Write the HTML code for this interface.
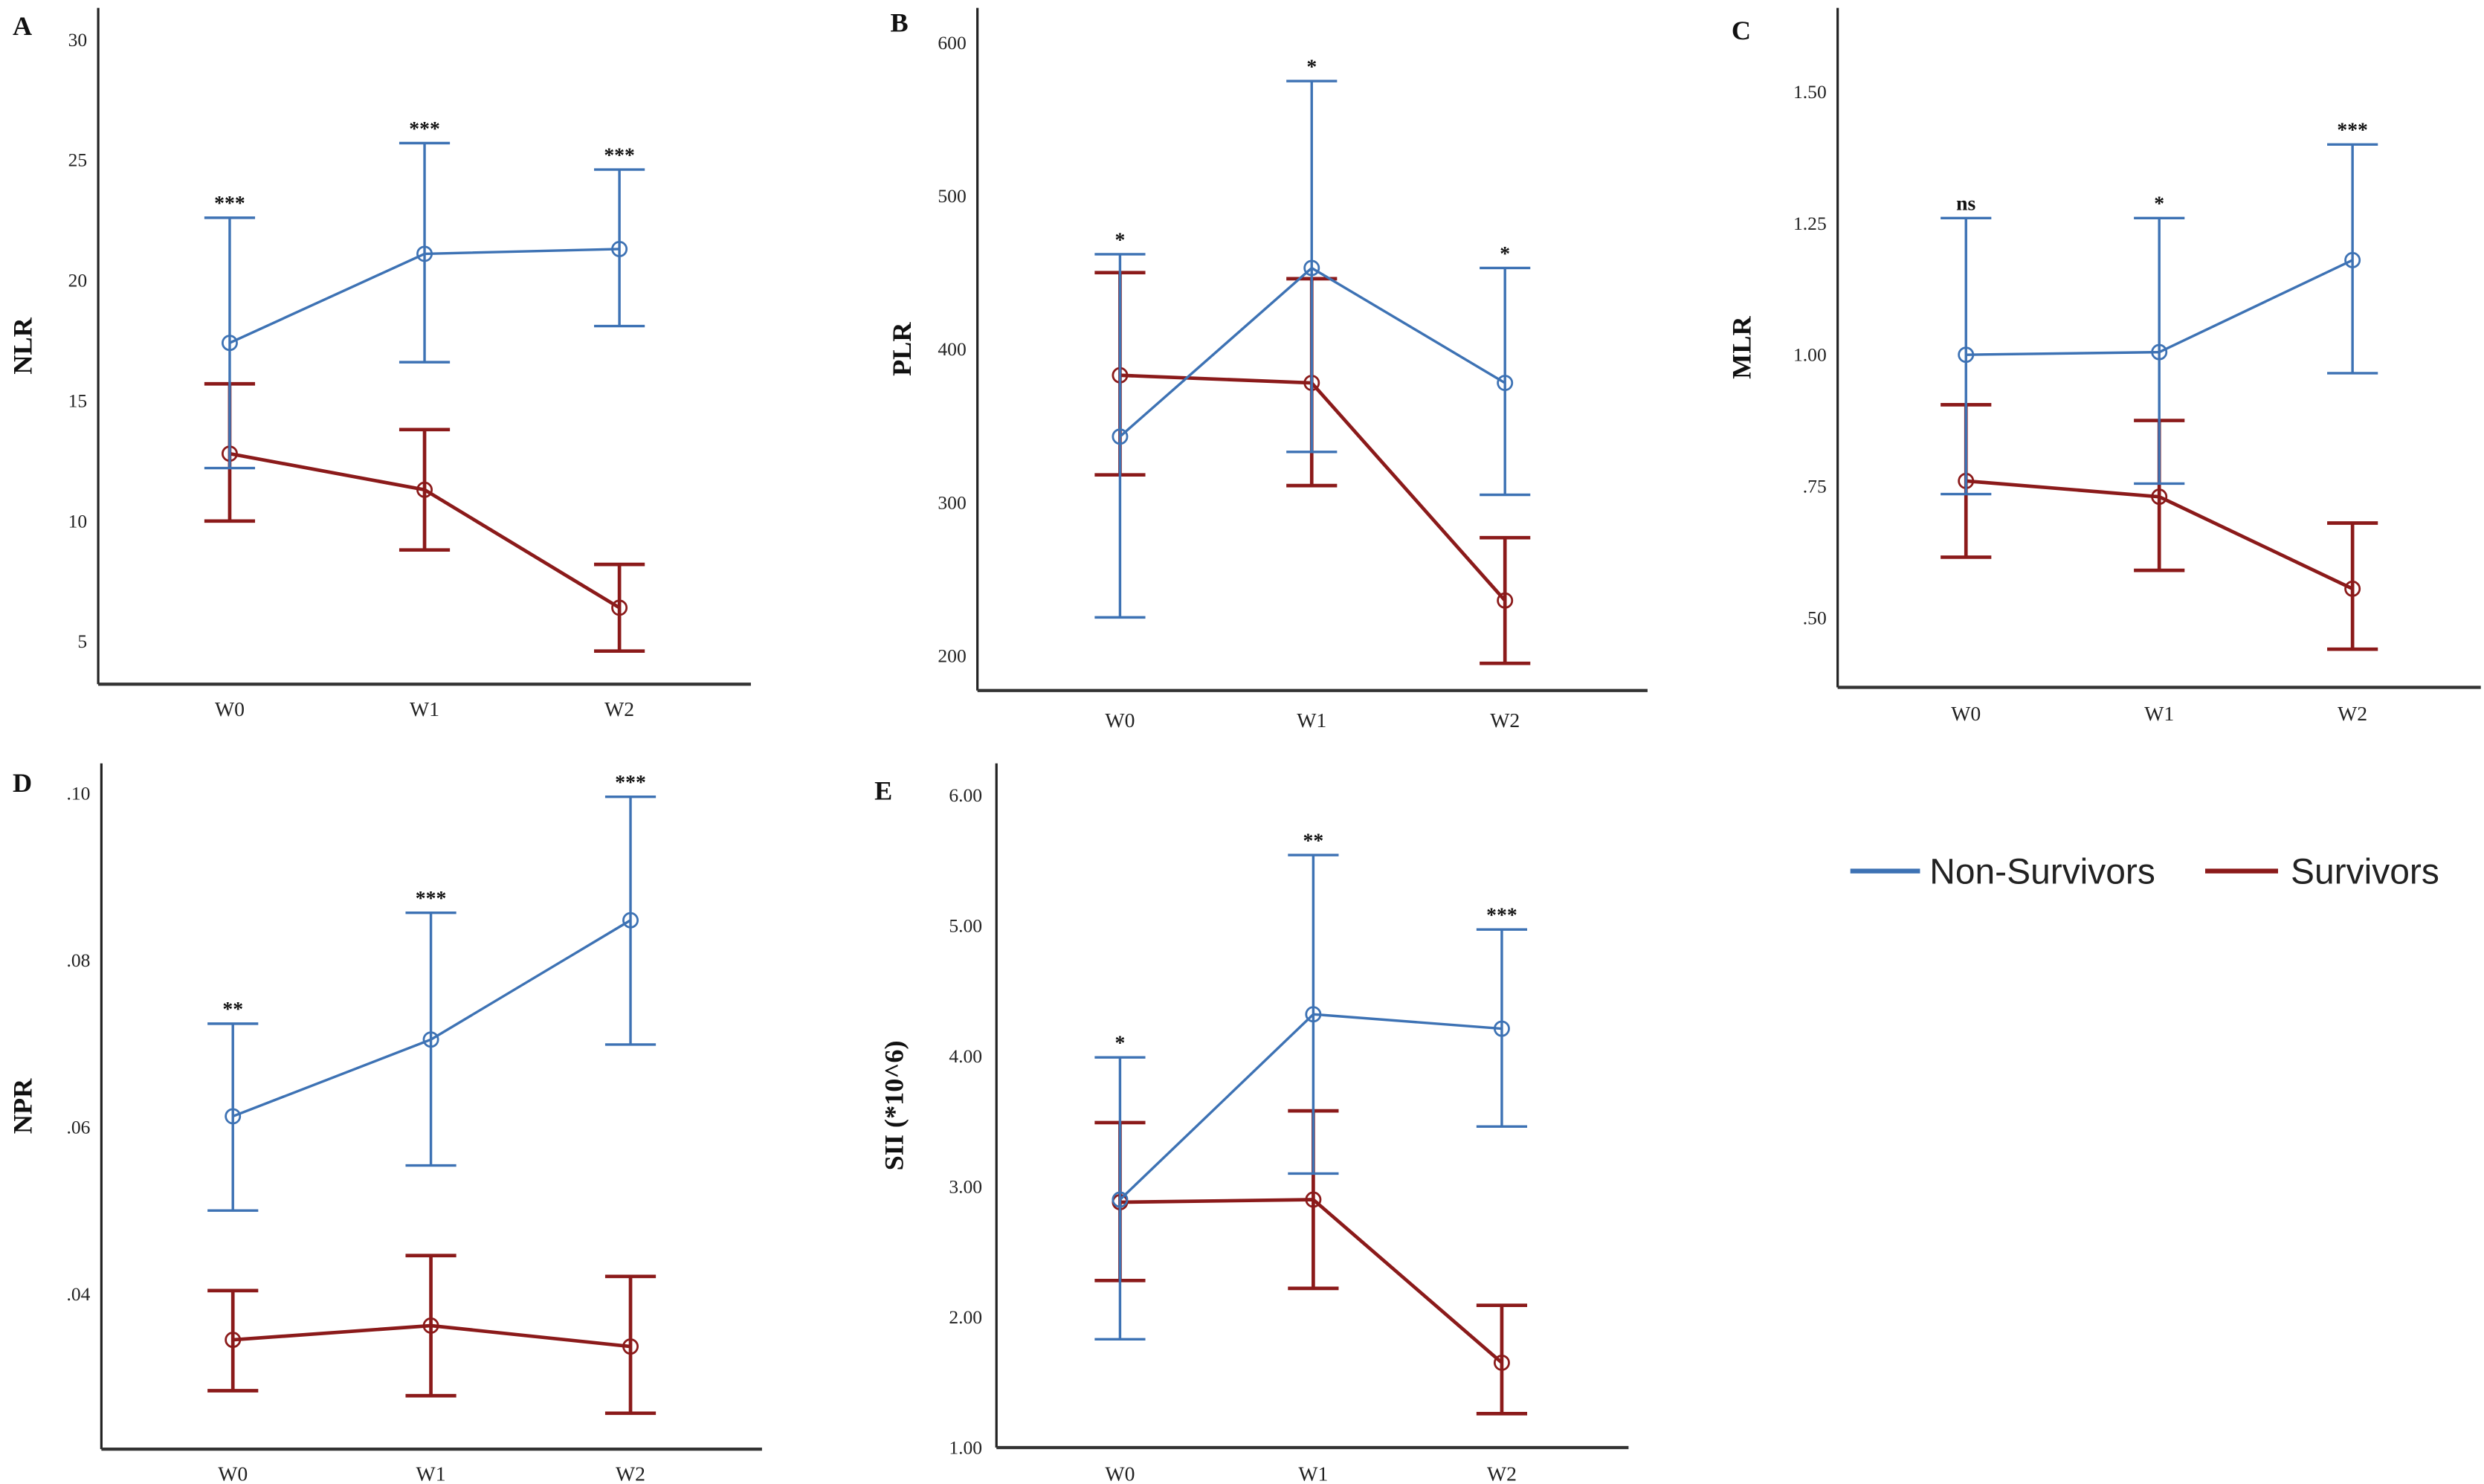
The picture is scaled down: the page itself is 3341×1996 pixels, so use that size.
<!DOCTYPE html>
<html><head><meta charset="utf-8"><style>
html,body{margin:0;padding:0;background:#fff;}
svg{display:block;}
text{font-family:"Liberation Serif",serif;}
</style></head><body>
<svg id="chart" width="3341" height="1996" viewBox="0 0 1568 937" preserveAspectRatio="none" xmlns="http://www.w3.org/2000/svg">
<g>
<line x1="1168" y1="550" x2="1212" y2="550" stroke="#3d72b4" stroke-width="3"/>
<text x="1218" y="558" font-size="22.5" style="font-family:'Liberation Sans',sans-serif" fill="#222">Non-Survivors</text>
<line x1="1392" y1="550" x2="1438" y2="550" stroke="#8b1a1a" stroke-width="3"/>
<text x="1446" y="558" font-size="22.5" style="font-family:'Liberation Sans',sans-serif" fill="#222">Survivors</text>
</g>
</svg>
<script>
const categories = ["W0","W1","W2"];
// Panel A NLR
const nlrBlue = [17.4, 21.1, 21.3];
const nlrBlueLo = [12.2, 16.6, 18.1];
const nlrBlueHi = [22.6, 25.7, 24.6];
const nlrRed = [12.8, 11.3, 6.4];
const nlrRedLo = [10.0, 8.8, 4.6];
const nlrRedHi = [15.7, 13.8, 8.2];
const nlrSig = ["***","***","***"];
const nlrTicks = [5,10,15,20,25,30];
const nlrTickLabels = ["5","10","15","20","25","30"];
// Panel B PLR
const plrBlue = [343, 453, 378];
const plrBlueLo = [225, 333, 305];
const plrBlueHi = [462, 575, 453];
const plrRed = [383, 378, 236];
const plrRedLo = [318, 311, 195];
const plrRedHi = [450, 446, 277];
const plrSig = ["*","*","*"];
const plrTicks = [200,300,400,500,600];
const plrTickLabels = ["200","300","400","500","600"];
// Panel C MLR
const mlrBlue = [1.00, 1.005, 1.18];
const mlrBlueLo = [0.735, 0.755, 0.965];
const mlrBlueHi = [1.26, 1.26, 1.40];
const mlrRed = [0.76, 0.73, 0.555];
const mlrRedLo = [0.615, 0.59, 0.44];
const mlrRedHi = [0.905, 0.875, 0.68];
const mlrSig = ["ns","*","***"];
const mlrTicks = [0.5,0.75,1.0,1.25,1.5];
const mlrTickLabels = [".50",".75","1.00","1.25","1.50"];
// Panel D NPR
const nprBlue = [0.0613, 0.0705, 0.0848];
const nprBlueLo = [0.050, 0.0554, 0.0699];
const nprBlueHi = [0.0724, 0.0857, 0.0996];
const nprRed = [0.0345, 0.0362, 0.0337];
const nprRedLo = [0.0284, 0.0278, 0.0257];
const nprRedHi = [0.0404, 0.0446, 0.0421];
const nprSig = ["**","***","***"];
const nprTicks = [0.04,0.06,0.08,0.10];
const nprTickLabels = [".04",".06",".08",".10"];
// Panel E SII
const siiBlue = [2.90, 4.32, 4.21];
const siiBlueLo = [1.83, 3.10, 3.46];
const siiBlueHi = [3.99, 5.54, 4.97];
const siiRed = [2.88, 2.90, 1.65];
const siiRedLo = [2.28, 2.22, 1.26];
const siiRedHi = [3.49, 3.58, 2.09];
const siiSig = ["*","**","***"];
const siiTicks = [1,2,3,4,5,6];
const siiTickLabels = ["1.00","2.00","3.00","4.00","5.00","6.00"];

const NS="http://www.w3.org/2000/svg";
const svg=document.getElementById('chart');
const BLUE="#3d72b4", RED="#8b1a1a";
function mk(tag,attrs,parent){const e=document.createElementNS(NS,tag);for(const k in attrs)e.setAttribute(k,attrs[k]);parent.appendChild(e);return e;}

const panels=[
 {id:"a",letter:"A",lx:8,ly:22,title:"NLR",tx:20,ax:62,top:5,bottom:432,right:474,v0:5,y0:405,v1:30,y1:25,xs:[145,268,391],tickX:55,
  ticks:nlrTicks,labels:nlrTickLabels,b:nlrBlue,bl:nlrBlueLo,bh:nlrBlueHi,r:nlrRed,rl:nlrRedLo,rh:nlrRedHi,sig:nlrSig,xlabY:452},
 {id:"b",letter:"B",lx:562,ly:20,title:"PLR",tx:575,ax:617,top:5,bottom:436,right:1040,v0:200,y0:414,v1:600,y1:27,xs:[707,828,950],tickX:610,
  ticks:plrTicks,labels:plrTickLabels,b:plrBlue,bl:plrBlueLo,bh:plrBlueHi,r:plrRed,rl:plrRedLo,rh:plrRedHi,sig:plrSig,xlabY:459},
 {id:"c",letter:"C",lx:1093,ly:25,title:"MLR",tx:1105,ax:1160,top:5,bottom:434,right:1566,v0:0.5,y0:390,v1:1.5,y1:58,xs:[1241,1363,1485],tickX:1153,
  ticks:mlrTicks,labels:mlrTickLabels,b:mlrBlue,bl:mlrBlueLo,bh:mlrBlueHi,r:mlrRed,rl:mlrRedLo,rh:mlrRedHi,sig:mlrSig,xlabY:455},
 {id:"d",letter:"D",lx:8,ly:500,title:"NPR",tx:20,ax:64,top:482,bottom:915,right:481,v0:0.04,y0:817,v1:0.10,y1:501,xs:[147,272,398],tickX:57,
  ticks:nprTicks,labels:nprTickLabels,b:nprBlue,bl:nprBlueLo,bh:nprBlueHi,r:nprRed,rl:nprRedLo,rh:nprRedHi,sig:nprSig,xlabY:935},
 {id:"e",letter:"E",lx:552,ly:505,title:"SII (*10^6)",tx:570,ax:629,top:482,bottom:914,right:1028,v0:1,y0:914,v1:6,y1:502,xs:[707,829,948],tickX:620,
  ticks:siiTicks,labels:siiTickLabels,b:siiBlue,bl:siiBlueLo,bh:siiBlueHi,r:siiRed,rl:siiRedLo,rh:siiRedHi,sig:siiSig,xlabY:935}
];

panels.forEach(p=>{
 const y=v=>p.y0+(v-p.v0)*(p.y1-p.y0)/(p.v1-p.v0);
 const g=mk('g',{},svg);
 
 
 const L=mk('text',{x:p.lx,y:p.ly,'font-size':17,'font-weight':'bold',fill:'#111'},g);L.textContent=p.letter;
 
 
 const T=mk('text',{x:p.tx,y:(p.top+p.bottom)/2,'font-size':17,'font-weight':'bold',fill:'#111','text-anchor':'middle',transform:`rotate(-90 ${p.tx} ${(p.top+p.bottom)/2})`},g);T.textContent=p.title;
 
 
 const ya=mk('line',{x1:p.ax,y1:p.top,x2:p.ax,y2:p.bottom,stroke:'#222','stroke-width':1.5},g);
 
 
 const xa=mk('line',{x1:p.ax,y1:p.bottom,x2:p.right,y2:p.bottom,stroke:'#333','stroke-width':2},g);
 
 
 p.ticks.forEach((t,i)=>{
  const tt=mk('text',{x:p.tickX,y:y(t)+4,'font-size':12,fill:'#222','text-anchor':'end'},g);tt.textContent=p.labels[i];
  
  
 });
 categories.forEach((c,i)=>{
  const tt=mk('text',{x:p.xs[i],y:p.xlabY,'font-size':13,fill:'#222','text-anchor':'middle'},g);tt.textContent=c;
  
  
 });
 [[p.r,p.rl,p.rh,RED,2.2,'survivors'],[p.b,p.bl,p.bh,BLUE,1.6,'non-survivors']].forEach(([m,lo,hi,col,w,nm])=>{
  const sg=mk('g',{},g);
  
  
  categories.forEach((c,i)=>{
   const x=p.xs[i];
   const e=mk('path',{d:`M${x-16},${y(hi[i])}H${x+16}M${x},${y(hi[i])}V${y(lo[i])}M${x-16},${y(lo[i])}H${x+16}`,stroke:col,'stroke-width':w,fill:'none'},sg);
   
   
  });
  const pl=mk('polyline',{points:m.map((v,i)=>p.xs[i]+','+y(v)).join(' '),stroke:col,'stroke-width':w,fill:'none'},sg);
  
  
  m.forEach((v,i)=>{
   const ci=mk('circle',{cx:p.xs[i],cy:y(v),r:4.5,stroke:col,'stroke-width':1.3,fill:'none'},sg);
   
   
  });
 });
 p.sig.forEach((s,i)=>{
  const st=mk('text',{x:p.xs[i],y:y(p.bh[i])-5,'font-size':13,'font-weight':'bold',fill:'#111','text-anchor':'middle'},g);st.textContent=s;
  
  
 });
});
</script>
</body></html>
